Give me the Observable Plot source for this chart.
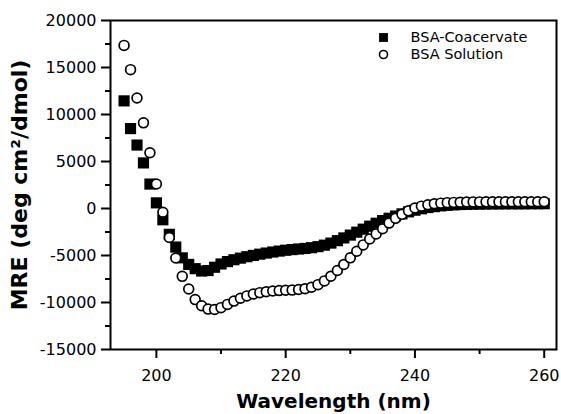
<!DOCTYPE html>
<html>
<head>
<meta charset="utf-8">
<script src="https://cdn.jsdelivr.net/npm/d3@7"></script>
<script src="https://cdn.jsdelivr.net/npm/@observablehq/plot@0.6"></script>
<style>
  body { margin: 0; background: #fff; }
  #chart svg { display: block; }
</style>
</head>
<body>
<div id="chart"></div>
<script>
// Wavelength (nm)
const wavelength = [195, 196, 197, 198, 199, 200, 201, 202, 203, 204, 205, 206, 207, 208, 209, 210,
  211, 212, 213, 214, 215, 216, 217, 218, 219, 220, 221, 222, 223, 224, 225, 226, 227, 228, 229, 230,
  231, 232, 233, 234, 235, 236, 237, 238, 239, 240, 241, 242, 243, 244, 245, 246, 247, 248, 249, 250,
  251, 252, 253, 254, 255, 256, 257, 258, 259, 260];

// MRE, BSA-Coacervate (filled squares)
const coacervate = [11450, 8500, 6750, 4850, 2600, 600, -1200, -2750, -4100, -5250, -5950, -6400, -6650, -6600, -6250, -5900,
  -5650, -5450, -5280, -5130, -4990, -4860, -4740, -4630, -4530, -4440, -4370, -4310, -4250, -4170, -4060, -3900, -3680, -3420, -3130, -2830,
  -2520, -2200, -1880, -1570, -1290, -1040, -800, -570, -360, -180, -30, 100, 200, 280, 340, 390, 420, 440, 460, 470,
  480, 490, 490, 500, 500, 500, 500, 510, 510, 510];

// MRE, BSA Solution (open circles)
const solution = [17350, 14770, 11760, 9110, 5930, 2610, -400, -3090, -5270, -7220, -8560, -9690, -10350, -10700, -10750, -10550,
  -10200, -9850, -9550, -9300, -9100, -8950, -8850, -8780, -8730, -8700, -8680, -8620, -8530, -8380, -8100, -7700, -7200, -6600, -5950, -5250,
  -4550, -3870, -3250, -2700, -2150, -1550, -1050, -620, -250, 50, 250, 400, 500, 570, 620, 650, 670, 690, 700, 700,
  710, 710, 710, 720, 720, 720, 720, 720, 720, 720];

const seriesNames = ["BSA-Coacervate", "BSA Solution"];
const xTitle = "Wavelength (nm)";
const yTitle = "MRE (deg cm\u00B2/dmol)";
const xMajorTicks = [200, 220, 240, 260];
const xMinorTicks = [210, 230, 250];
const yMajorTicks = [-15000, -10000, -5000, 0, 5000, 10000, 15000, 20000];
const yMinorTicks = [-12500, -7500, -2500, 2500, 7500, 12500, 17500];

const coacData = wavelength.map((w, i) => ({w, v: coacervate[i]}));
const solData = wavelength.map((w, i) => ({w, v: solution[i]}));

const font = "'DejaVu Sans', 'Liberation Sans', sans-serif";
const fmt = d => String(d);

const chart = Plot.plot({
  width: 561,
  height: 414,
  marginLeft: 110,
  marginRight: 5,
  marginTop: 20,
  marginBottom: 65,
  style: {fontFamily: font, background: "#fff", color: "#000", overflow: "visible"},
  x: {domain: [192.9, 261.9]},
  y: {domain: [-15000, 20000]},
  marks: [
    Plot.axisX(xMinorTicks, {tickSize: 5, strokeWidth: 2, tickFormat: () => "", label: null}),
    Plot.axisX(xMajorTicks, {tickSize: 9, tickPadding: 11, strokeWidth: 2, fontSize: 16, tickFormat: fmt, label: null}),
    Plot.axisY(yMinorTicks, {tickSize: 5, strokeWidth: 2, tickFormat: () => "", label: null}),
    Plot.axisY(yMajorTicks, {tickSize: 9, tickPadding: 5, strokeWidth: 2, fontSize: 16, tickFormat: fmt, label: null}),
    Plot.text([xTitle], {frameAnchor: "bottom", dy: 44, lineAnchor: "top", textAnchor: "middle", fontSize: 20, fontWeight: "bold", fill: "black"}),
    Plot.text([yTitle], {frameAnchor: "left", dx: -99, rotate: -90, lineAnchor: "top", textAnchor: "middle", fontSize: 22, fontWeight: "bold", fill: "black"}),
    Plot.dot(coacData, {x: "w", y: "v", symbol: "square", r: 6.3, fill: "black"}),
    Plot.dot(solData, {x: "w", y: "v", symbol: "circle", r: 4.9, fill: "white", stroke: "black", strokeWidth: 1.7}),
    Plot.frame({stroke: "black", strokeWidth: 2}),
    // legend
    Plot.dot([seriesNames[0]], {frameAnchor: "top-left", dx: 273, dy: 17, symbol: "square", r: 5, fill: "black"}),
    Plot.dot([seriesNames[1]], {frameAnchor: "top-left", dx: 273, dy: 34, symbol: "circle", r: 4, fill: "white", stroke: "black", strokeWidth: 1.6}),
    Plot.text([seriesNames[0]], {text: d => d, frameAnchor: "top-left", dx: 300, dy: 17, textAnchor: "start", lineAnchor: "middle", fontSize: 14.5, fill: "black"}),
    Plot.text([seriesNames[1]], {text: d => d, frameAnchor: "top-left", dx: 300, dy: 34, textAnchor: "start", lineAnchor: "middle", fontSize: 14.5, fill: "black"})
  ]
});
document.getElementById("chart").appendChild(chart);
</script>
</body>
</html>
